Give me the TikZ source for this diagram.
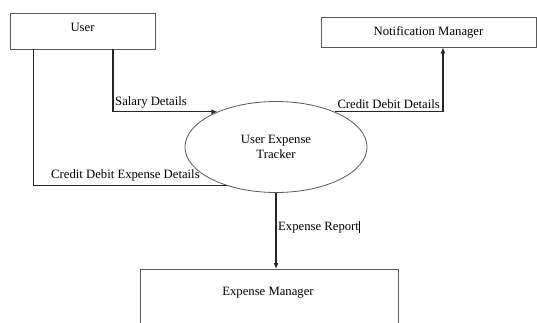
\documentclass[tikz,border=0pt]{standalone}
\usepackage{fontspec}
\setmainfont{Liberation Serif}
\usetikzlibrary{shapes.geometric,arrows.meta,calc}
\begin{document}
\begin{tikzpicture}[x=1pt,y=-1pt,
  box/.style={draw=black!65,line width=0.8pt,rectangle,inner sep=0pt,font=\fontsize{12.7}{14.5}\selectfont},
  flow/.style={draw=black!85,line width=1.3pt},
  arr/.style={flow,-{Latex[length=6pt,width=5pt]}},
  lbl/.style={font=\fontsize{12.7}{14.5}\selectfont,inner sep=0pt}]
\useasboundingbox (0,0) rectangle (537,322);
\fill[white] (0,0) rectangle (537,322);
\node[box,minimum width=145pt,minimum height=36pt] (user) at (82.5,31) {};
\node[lbl] (usert) at (82.5,27) {User};
\node[box,minimum width=215pt,minimum height=30pt] (notif) at (428.5,32) {Notification Manager};
\node[box,ellipse,minimum width=182pt,minimum height=91pt,align=center] (tracker) at (276,147) {User Expense\\Tracker};
\node[box,minimum width=258pt,minimum height=70pt,anchor=north] (em) at (269,269) {};
\node[lbl] (emt) at (268,293) {Expense Manager};
\coordinate (us1) at ($(user.south west)!0.71!(user.south east)$);
\coordinate (us2) at ($(user.south west)!0.165!(user.south east)$);
\coordinate (nb) at ($(notif.south west)!0.567!(notif.south east)$);
\draw[arr] (us1) |- (tracker.149);
\draw[flow] (us2) |- (tracker.218);
\draw[arr] (tracker.31) -| (nb);
\draw[arr] (tracker.south) -- (tracker.south |- em.north);
\node[lbl,anchor=south west] (l1) at (115,108) {Salary Details};
\node[lbl,anchor=south west] (l2) at (51,181) {Credit Debit Expense Details};
\node[lbl,anchor=south east] (l3) at (440,109) {Credit Debit Details};
\node[lbl,anchor=west] (l4) at (278,227) {Expense Report\rule[-2pt]{0.5pt}{12pt}};
\end{tikzpicture}
\end{document}
